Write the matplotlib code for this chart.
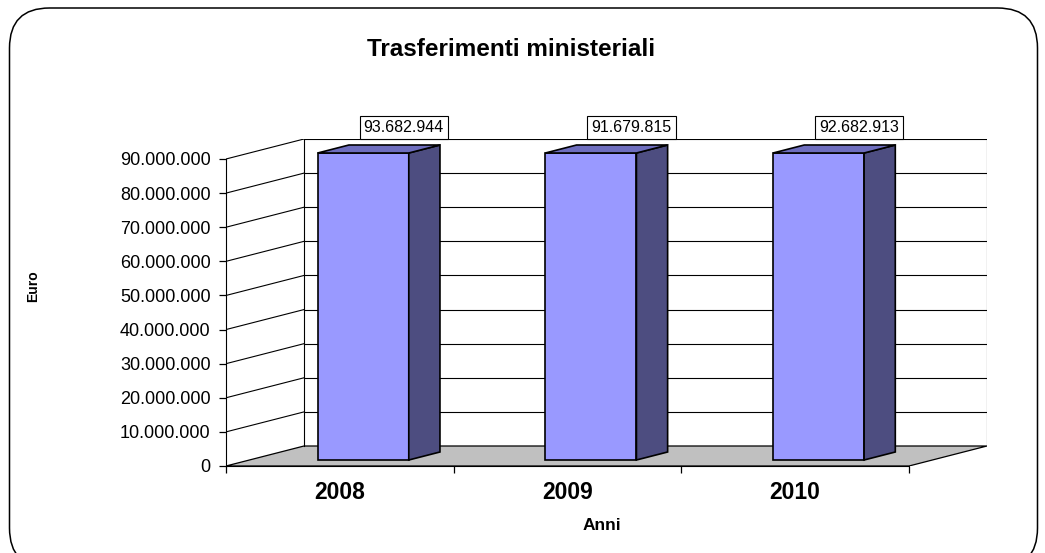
#!/usr/bin/env python3

import numpy as np
import matplotlib
matplotlib.use("Agg")
import matplotlib.pyplot as plt
from matplotlib.patches import Polygon, FancyBboxPatch

# data
years = ["2008", "2009", "2010"]
values = [93682944, 91679815, 92682913]
y_ticks = [0, 10000000, 20000000, 30000000, 40000000, 50000000,
           60000000, 70000000, 80000000, 90000000]

y_max = 90000000
# 3d depth offset (in data units)
DX = 0.3426
DY = 5.863e6
front_col = "#9999FF"
side_col = "#4D4D80"
top_col = "#6E6EBE"

plt.rcParams["font.family"] = ["Liberation Sans", "DejaVu Sans"]

fig = plt.figure(figsize=(10.45, 5.53), dpi=100)
fig.patch.set_facecolor("white")

# rounded outer border
border = FancyBboxPatch((0.095, -0.15), 10.28, 5.6,
                        boxstyle="round,pad=0,rounding_size=0.4",
                        transform=fig.dpi_scale_trans, facecolor="none",
                        edgecolor="black", linewidth=1.1)
fig.patches.append(border)

ax = fig.add_axes([226 / 1045, 87 / 553, 761 / 1045, 327 / 553])
n = len(years)
ax.set_xlim(0, n + DX)
ax.set_ylim(0, y_max + DY)

for s in ["top", "right"]:
    ax.spines[s].set_visible(False)
ax.spines["left"].set_bounds(0, y_max)
ax.spines["bottom"].set_bounds(0, n)
ax.spines["left"].set_zorder(6)
ax.spines["bottom"].set_zorder(6)

# floor
floor = Polygon([(0, 0), (n, 0), (n + DX, DY), (DX, DY)], closed=True,
                facecolor="#C0C0C0", edgecolor="black", linewidth=0.9, zorder=1)
ax.add_patch(floor)

# walls + gridlines
for v in y_ticks[1:]:
    ax.plot([DX, n + DX], [v + DY, v + DY], color="black", lw=0.8, zorder=2)
    ax.plot([0, DX], [v, v + DY], color="black", lw=0.8, zorder=2)
ax.plot([DX, DX], [DY, y_max + DY], color="black", lw=0.8, zorder=2)
ax.plot([n + DX, n + DX], [DY, y_max + DY], color="black", lw=0.8, zorder=2)

# bars (clipped at the axis max like the original)
heights = np.minimum(values, y_max)
w = 0.4
d0, d1 = 0.3, 0.7
for i, (h, v) in enumerate(zip(heights, values)):
    x0 = i + 0.5 - w / 2 + d0 * DX
    x1 = i + 0.5 + w / 2 + d0 * DX
    b0 = d0 * DY
    ex = (d1 - d0) * DX
    ey = (d1 - d0) * DY
    front = Polygon([(x0, b0), (x1, b0), (x1, h + b0), (x0, h + b0)],
                    facecolor=front_col, edgecolor="black", lw=1.2, zorder=4)
    side = Polygon([(x1, b0), (x1 + ex, b0 + ey), (x1 + ex, h + b0 + ey), (x1, h + b0)],
                   facecolor=side_col, edgecolor="black", lw=1.2, zorder=4)
    top = Polygon([(x0, h + b0), (x1, h + b0), (x1 + ex, h + b0 + ey), (x0 + ex, h + b0 + ey)],
                  facecolor=top_col, edgecolor="black", lw=1.2, zorder=4)
    for p in (front, side, top):
        ax.add_patch(p)
    # value label
    lbl = f"{v:,}".replace(",", ".")
    ax.annotate(lbl, (i + 0.5 + 0.82 * DX, h + 0.82 * DY), xytext=(0, 11),
                textcoords="offset points", ha="center", va="center",
                fontsize=11.5, zorder=7, annotation_clip=False,
                bbox=dict(boxstyle="square,pad=0.25", facecolor="white",
                          edgecolor="black", linewidth=0.8))

# y axis ticks
ax.set_yticks(y_ticks)
ax.set_yticklabels([f"{t:,}".replace(",", ".") for t in y_ticks], fontsize=13)
ax.tick_params(axis="y", length=5, width=0.9, pad=6)

# x axis: tick marks at bin edges, labels at centers
ax.set_xticks(range(n + 1))
ax.set_xticklabels([])
ax.tick_params(axis="x", which="major", length=5, width=0.9)
ax.set_xticks(np.arange(n) + 0.5, minor=True)
ax.set_xticklabels(years, minor=True, fontsize=16.5, fontweight="bold")
ax.tick_params(axis="x", which="minor", length=0, pad=11)

ax.patch.set_visible(False)

fig.text(511 / 1045, 1 - 50 / 553, "Trasferimenti ministeriali", ha="center",
         va="center", fontsize=17.5, fontweight="bold")
fig.text(33 / 1045, 1 - 286 / 553, "Euro", ha="center", va="center",
         rotation=90, fontsize=10, fontweight="bold")
fig.text(602 / 1045, 1 - 526 / 553, "Anni", ha="center", va="center",
         fontsize=12.5, fontweight="bold")

fig.savefig("out.png", dpi=100)
